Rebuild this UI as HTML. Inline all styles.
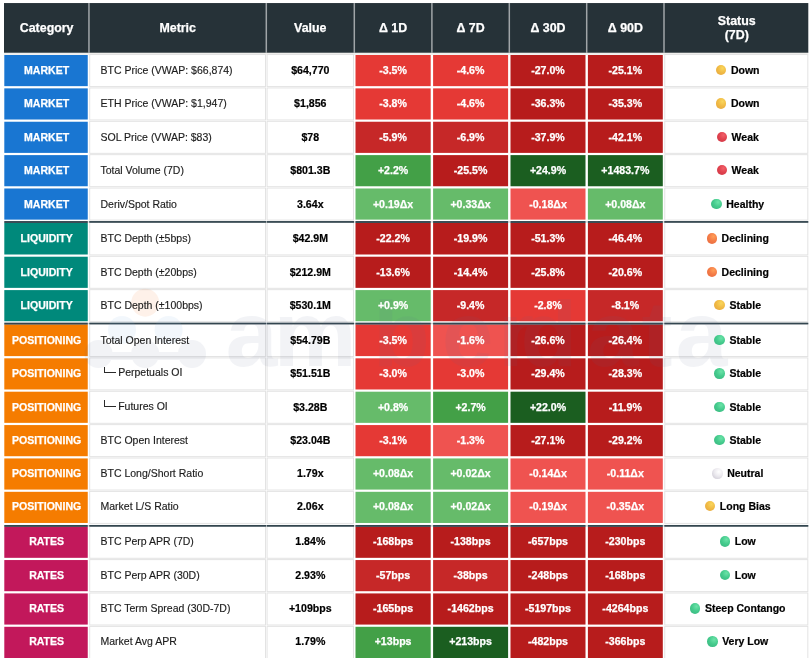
<!DOCTYPE html>
<html><head><meta charset="utf-8"><title>Market Dashboard</title>
<style>
html,body{margin:0;padding:0;background:#fff;}
body{width:810px;height:658px;overflow:hidden;position:relative;font-family:"Liberation Sans",sans-serif;}
#bg{position:absolute;left:0;top:0;}
#tx{position:absolute;left:0;top:0;width:810px;height:658px;will-change:transform;}
.t{position:absolute;white-space:nowrap;line-height:1;}
.h,.c,.d{-webkit-text-stroke:0.25px #fff;}
.v,.s{-webkit-text-stroke:0.2px #000;}
.m{-webkit-text-stroke:0.15px #1c1c1c;}
.h{color:#fff;font-weight:bold;font-size:12.4px;text-align:center;}
.c{color:#fff;font-weight:bold;font-size:10.55px;text-align:center;}
.m{color:#1c1c1c;font-size:10.5px;text-align:left;}
.v{color:#000;font-weight:bold;font-size:10.6px;text-align:center;}
.d{color:#fff;font-weight:bold;font-size:10.6px;text-align:center;}
.s{color:#000;font-weight:bold;font-size:10.5px;text-align:center;}
.dot{display:inline-block;width:10.4px;height:10.4px;border-radius:50%;vertical-align:-1.2px;margin-right:4.6px;}
.dy{background:radial-gradient(circle at 64% 32%,#f9d65c 0%,#f1bb45 45%,#e3a23c 100%);}
.dr{background:radial-gradient(circle at 64% 32%,#f2606a 0%,#e0424e 45%,#cd3645 100%);}
.dg{background:radial-gradient(circle at 64% 32%,#6be3a8 0%,#45cb8d 45%,#38b37e 100%);}
.do{background:radial-gradient(circle at 64% 32%,#ff9e58 0%,#f47c47 45%,#e5673f 100%);}
.dw{background:radial-gradient(circle at 62% 34%,#ffffff 0%,#ebe9ee 45%,#c6c2cd 100%);}
</style></head><body>

<svg id="bg" width="810" height="658" viewBox="0 0 810 658">
<rect x="0" y="0" width="810" height="658" fill="#ffffff"/>
<rect x="4.0" y="3.05" width="804.3" height="49.800000000000004" fill="#263238"/>
<rect x="88.20" y="3.05" width="1.5" height="49.80" fill="#a0a5a8"/>
<rect x="265.55" y="3.05" width="1.5" height="49.80" fill="#a0a5a8"/>
<rect x="353.55" y="3.05" width="1.5" height="49.80" fill="#a0a5a8"/>
<rect x="431.15" y="3.05" width="1.5" height="49.80" fill="#a0a5a8"/>
<rect x="508.55" y="3.05" width="1.5" height="49.80" fill="#a0a5a8"/>
<rect x="585.95" y="3.05" width="1.5" height="49.80" fill="#a0a5a8"/>
<rect x="663.25" y="3.05" width="1.5" height="49.80" fill="#a0a5a8"/>
<rect x="4.0" y="52.85" width="804.3" height="1.95" fill="#efeeec"/>
<rect x="4.30" y="55.00" width="83.45" height="31.15" fill="#1976D2"/>
<rect x="89.25" y="54.10" width="176.75" height="32.95" fill="#e2e2e2"/>
<rect x="90.20" y="55.05" width="174.85" height="31.05" fill="#ffffff"/>
<rect x="266.60" y="54.10" width="87.40" height="32.95" fill="#e2e2e2"/>
<rect x="267.55" y="55.05" width="85.50" height="31.05" fill="#ffffff"/>
<rect x="355.50" y="55.00" width="75.20" height="31.15" fill="#E53935"/>
<rect x="433.10" y="55.00" width="75.00" height="31.15" fill="#E53935"/>
<rect x="510.50" y="55.00" width="75.00" height="31.15" fill="#B71C1C"/>
<rect x="587.90" y="55.00" width="74.90" height="31.15" fill="#B71C1C"/>
<rect x="664.30" y="54.10" width="144.00" height="32.95" fill="#e2e2e2"/>
<rect x="665.25" y="55.05" width="142.10" height="31.05" fill="#ffffff"/>
<rect x="4.30" y="88.37" width="83.45" height="31.15" fill="#1976D2"/>
<rect x="89.25" y="87.47" width="176.75" height="32.95" fill="#e2e2e2"/>
<rect x="90.20" y="88.42" width="174.85" height="31.05" fill="#ffffff"/>
<rect x="266.60" y="87.47" width="87.40" height="32.95" fill="#e2e2e2"/>
<rect x="267.55" y="88.42" width="85.50" height="31.05" fill="#ffffff"/>
<rect x="355.50" y="88.37" width="75.20" height="31.15" fill="#E53935"/>
<rect x="433.10" y="88.37" width="75.00" height="31.15" fill="#E53935"/>
<rect x="510.50" y="88.37" width="75.00" height="31.15" fill="#B71C1C"/>
<rect x="587.90" y="88.37" width="74.90" height="31.15" fill="#B71C1C"/>
<rect x="664.30" y="87.47" width="144.00" height="32.95" fill="#e2e2e2"/>
<rect x="665.25" y="88.42" width="142.10" height="31.05" fill="#ffffff"/>
<rect x="4.30" y="121.74" width="83.45" height="31.15" fill="#1976D2"/>
<rect x="89.25" y="120.84" width="176.75" height="32.95" fill="#e2e2e2"/>
<rect x="90.20" y="121.79" width="174.85" height="31.05" fill="#ffffff"/>
<rect x="266.60" y="120.84" width="87.40" height="32.95" fill="#e2e2e2"/>
<rect x="267.55" y="121.79" width="85.50" height="31.05" fill="#ffffff"/>
<rect x="355.50" y="121.74" width="75.20" height="31.15" fill="#C62828"/>
<rect x="433.10" y="121.74" width="75.00" height="31.15" fill="#C62828"/>
<rect x="510.50" y="121.74" width="75.00" height="31.15" fill="#B71C1C"/>
<rect x="587.90" y="121.74" width="74.90" height="31.15" fill="#B71C1C"/>
<rect x="664.30" y="120.84" width="144.00" height="32.95" fill="#e2e2e2"/>
<rect x="665.25" y="121.79" width="142.10" height="31.05" fill="#ffffff"/>
<rect x="4.30" y="155.11" width="83.45" height="31.15" fill="#1976D2"/>
<rect x="89.25" y="154.21" width="176.75" height="32.95" fill="#e2e2e2"/>
<rect x="90.20" y="155.16" width="174.85" height="31.05" fill="#ffffff"/>
<rect x="266.60" y="154.21" width="87.40" height="32.95" fill="#e2e2e2"/>
<rect x="267.55" y="155.16" width="85.50" height="31.05" fill="#ffffff"/>
<rect x="355.50" y="155.11" width="75.20" height="31.15" fill="#43A047"/>
<rect x="433.10" y="155.11" width="75.00" height="31.15" fill="#B71C1C"/>
<rect x="510.50" y="155.11" width="75.00" height="31.15" fill="#1B5E20"/>
<rect x="587.90" y="155.11" width="74.90" height="31.15" fill="#1B5E20"/>
<rect x="664.30" y="154.21" width="144.00" height="32.95" fill="#e2e2e2"/>
<rect x="665.25" y="155.16" width="142.10" height="31.05" fill="#ffffff"/>
<rect x="4.30" y="188.48" width="83.45" height="31.15" fill="#1976D2"/>
<rect x="89.25" y="187.58" width="176.75" height="32.95" fill="#e2e2e2"/>
<rect x="90.20" y="188.53" width="174.85" height="31.05" fill="#ffffff"/>
<rect x="266.60" y="187.58" width="87.40" height="32.95" fill="#e2e2e2"/>
<rect x="267.55" y="188.53" width="85.50" height="31.05" fill="#ffffff"/>
<rect x="355.50" y="188.48" width="75.20" height="31.15" fill="#66BB6A"/>
<rect x="433.10" y="188.48" width="75.00" height="31.15" fill="#66BB6A"/>
<rect x="510.50" y="188.48" width="75.00" height="31.15" fill="#EF5350"/>
<rect x="587.90" y="188.48" width="74.90" height="31.15" fill="#66BB6A"/>
<rect x="664.30" y="187.58" width="144.00" height="32.95" fill="#e2e2e2"/>
<rect x="665.25" y="188.53" width="142.10" height="31.05" fill="#ffffff"/>
<rect x="4.30" y="221.25" width="804.00" height="1.35" fill="#cdd2d5"/>
<rect x="4.30" y="222.80" width="83.45" height="31.70" fill="#00897B"/>
<rect x="4.30" y="221.05" width="83.45" height="1.90" fill="#33464f"/>
<rect x="89.25" y="222.80" width="176.75" height="32.60" fill="#e2e2e2"/>
<rect x="90.20" y="222.80" width="174.85" height="31.65" fill="#ffffff"/>
<rect x="89.25" y="221.05" width="176.75" height="1.75" fill="#33464f"/>
<rect x="266.60" y="222.80" width="87.40" height="32.60" fill="#e2e2e2"/>
<rect x="267.55" y="222.80" width="85.50" height="31.65" fill="#ffffff"/>
<rect x="266.60" y="221.05" width="87.40" height="1.75" fill="#33464f"/>
<rect x="355.50" y="222.80" width="75.20" height="31.70" fill="#B71C1C"/>
<rect x="355.50" y="221.05" width="75.20" height="1.90" fill="#33464f"/>
<rect x="433.10" y="222.80" width="75.00" height="31.70" fill="#B71C1C"/>
<rect x="433.10" y="221.05" width="75.00" height="1.90" fill="#33464f"/>
<rect x="510.50" y="222.80" width="75.00" height="31.70" fill="#B71C1C"/>
<rect x="510.50" y="221.05" width="75.00" height="1.90" fill="#33464f"/>
<rect x="587.90" y="222.80" width="74.90" height="31.70" fill="#B71C1C"/>
<rect x="587.90" y="221.05" width="74.90" height="1.90" fill="#33464f"/>
<rect x="664.30" y="222.80" width="144.00" height="32.60" fill="#e2e2e2"/>
<rect x="665.25" y="222.80" width="142.10" height="31.65" fill="#ffffff"/>
<rect x="664.30" y="221.05" width="144.00" height="1.75" fill="#33464f"/>
<rect x="4.30" y="256.72" width="83.45" height="31.15" fill="#00897B"/>
<rect x="89.25" y="255.82" width="176.75" height="32.95" fill="#e2e2e2"/>
<rect x="90.20" y="256.77" width="174.85" height="31.05" fill="#ffffff"/>
<rect x="266.60" y="255.82" width="87.40" height="32.95" fill="#e2e2e2"/>
<rect x="267.55" y="256.77" width="85.50" height="31.05" fill="#ffffff"/>
<rect x="355.50" y="256.72" width="75.20" height="31.15" fill="#B71C1C"/>
<rect x="433.10" y="256.72" width="75.00" height="31.15" fill="#B71C1C"/>
<rect x="510.50" y="256.72" width="75.00" height="31.15" fill="#B71C1C"/>
<rect x="587.90" y="256.72" width="74.90" height="31.15" fill="#B71C1C"/>
<rect x="664.30" y="255.82" width="144.00" height="32.95" fill="#e2e2e2"/>
<rect x="665.25" y="256.77" width="142.10" height="31.05" fill="#ffffff"/>
<rect x="4.30" y="290.09" width="83.45" height="31.15" fill="#00897B"/>
<rect x="89.25" y="289.19" width="176.75" height="32.95" fill="#e2e2e2"/>
<rect x="90.20" y="290.14" width="174.85" height="31.05" fill="#ffffff"/>
<rect x="266.60" y="289.19" width="87.40" height="32.95" fill="#e2e2e2"/>
<rect x="267.55" y="290.14" width="85.50" height="31.05" fill="#ffffff"/>
<rect x="355.50" y="290.09" width="75.20" height="31.15" fill="#66BB6A"/>
<rect x="433.10" y="290.09" width="75.00" height="31.15" fill="#C62828"/>
<rect x="510.50" y="290.09" width="75.00" height="31.15" fill="#E53935"/>
<rect x="587.90" y="290.09" width="74.90" height="31.15" fill="#C62828"/>
<rect x="664.30" y="289.19" width="144.00" height="32.95" fill="#e2e2e2"/>
<rect x="665.25" y="290.14" width="142.10" height="31.05" fill="#ffffff"/>
<rect x="4.30" y="322.86" width="804.00" height="1.35" fill="#cdd2d5"/>
<rect x="4.30" y="324.41" width="83.45" height="31.70" fill="#F57C00"/>
<rect x="4.30" y="322.66" width="83.45" height="1.90" fill="#33464f"/>
<rect x="89.25" y="324.41" width="176.75" height="32.60" fill="#e2e2e2"/>
<rect x="90.20" y="324.41" width="174.85" height="31.65" fill="#ffffff"/>
<rect x="89.25" y="322.66" width="176.75" height="1.75" fill="#33464f"/>
<rect x="266.60" y="324.41" width="87.40" height="32.60" fill="#e2e2e2"/>
<rect x="267.55" y="324.41" width="85.50" height="31.65" fill="#ffffff"/>
<rect x="266.60" y="322.66" width="87.40" height="1.75" fill="#33464f"/>
<rect x="355.50" y="324.41" width="75.20" height="31.70" fill="#E53935"/>
<rect x="355.50" y="322.66" width="75.20" height="1.90" fill="#33464f"/>
<rect x="433.10" y="324.41" width="75.00" height="31.70" fill="#EF5350"/>
<rect x="433.10" y="322.66" width="75.00" height="1.90" fill="#33464f"/>
<rect x="510.50" y="324.41" width="75.00" height="31.70" fill="#B71C1C"/>
<rect x="510.50" y="322.66" width="75.00" height="1.90" fill="#33464f"/>
<rect x="587.90" y="324.41" width="74.90" height="31.70" fill="#B71C1C"/>
<rect x="587.90" y="322.66" width="74.90" height="1.90" fill="#33464f"/>
<rect x="664.30" y="324.41" width="144.00" height="32.60" fill="#e2e2e2"/>
<rect x="665.25" y="324.41" width="142.10" height="31.65" fill="#ffffff"/>
<rect x="664.30" y="322.66" width="144.00" height="1.75" fill="#33464f"/>
<rect x="4.30" y="358.33" width="83.45" height="31.15" fill="#F57C00"/>
<rect x="89.25" y="357.43" width="176.75" height="32.95" fill="#e2e2e2"/>
<rect x="90.20" y="358.38" width="174.85" height="31.05" fill="#ffffff"/>
<rect x="266.60" y="357.43" width="87.40" height="32.95" fill="#e2e2e2"/>
<rect x="267.55" y="358.38" width="85.50" height="31.05" fill="#ffffff"/>
<rect x="355.50" y="358.33" width="75.20" height="31.15" fill="#E53935"/>
<rect x="433.10" y="358.33" width="75.00" height="31.15" fill="#E53935"/>
<rect x="510.50" y="358.33" width="75.00" height="31.15" fill="#B71C1C"/>
<rect x="587.90" y="358.33" width="74.90" height="31.15" fill="#B71C1C"/>
<rect x="664.30" y="357.43" width="144.00" height="32.95" fill="#e2e2e2"/>
<rect x="665.25" y="358.38" width="142.10" height="31.05" fill="#ffffff"/>
<rect x="4.30" y="391.70" width="83.45" height="31.15" fill="#F57C00"/>
<rect x="89.25" y="390.80" width="176.75" height="32.95" fill="#e2e2e2"/>
<rect x="90.20" y="391.75" width="174.85" height="31.05" fill="#ffffff"/>
<rect x="266.60" y="390.80" width="87.40" height="32.95" fill="#e2e2e2"/>
<rect x="267.55" y="391.75" width="85.50" height="31.05" fill="#ffffff"/>
<rect x="355.50" y="391.70" width="75.20" height="31.15" fill="#66BB6A"/>
<rect x="433.10" y="391.70" width="75.00" height="31.15" fill="#43A047"/>
<rect x="510.50" y="391.70" width="75.00" height="31.15" fill="#1B5E20"/>
<rect x="587.90" y="391.70" width="74.90" height="31.15" fill="#B71C1C"/>
<rect x="664.30" y="390.80" width="144.00" height="32.95" fill="#e2e2e2"/>
<rect x="665.25" y="391.75" width="142.10" height="31.05" fill="#ffffff"/>
<rect x="4.30" y="425.07" width="83.45" height="31.15" fill="#F57C00"/>
<rect x="89.25" y="424.17" width="176.75" height="32.95" fill="#e2e2e2"/>
<rect x="90.20" y="425.12" width="174.85" height="31.05" fill="#ffffff"/>
<rect x="266.60" y="424.17" width="87.40" height="32.95" fill="#e2e2e2"/>
<rect x="267.55" y="425.12" width="85.50" height="31.05" fill="#ffffff"/>
<rect x="355.50" y="425.07" width="75.20" height="31.15" fill="#E53935"/>
<rect x="433.10" y="425.07" width="75.00" height="31.15" fill="#EF5350"/>
<rect x="510.50" y="425.07" width="75.00" height="31.15" fill="#B71C1C"/>
<rect x="587.90" y="425.07" width="74.90" height="31.15" fill="#B71C1C"/>
<rect x="664.30" y="424.17" width="144.00" height="32.95" fill="#e2e2e2"/>
<rect x="665.25" y="425.12" width="142.10" height="31.05" fill="#ffffff"/>
<rect x="4.30" y="458.44" width="83.45" height="31.15" fill="#F57C00"/>
<rect x="89.25" y="457.54" width="176.75" height="32.95" fill="#e2e2e2"/>
<rect x="90.20" y="458.49" width="174.85" height="31.05" fill="#ffffff"/>
<rect x="266.60" y="457.54" width="87.40" height="32.95" fill="#e2e2e2"/>
<rect x="267.55" y="458.49" width="85.50" height="31.05" fill="#ffffff"/>
<rect x="355.50" y="458.44" width="75.20" height="31.15" fill="#66BB6A"/>
<rect x="433.10" y="458.44" width="75.00" height="31.15" fill="#66BB6A"/>
<rect x="510.50" y="458.44" width="75.00" height="31.15" fill="#EF5350"/>
<rect x="587.90" y="458.44" width="74.90" height="31.15" fill="#EF5350"/>
<rect x="664.30" y="457.54" width="144.00" height="32.95" fill="#e2e2e2"/>
<rect x="665.25" y="458.49" width="142.10" height="31.05" fill="#ffffff"/>
<rect x="4.30" y="491.81" width="83.45" height="31.15" fill="#F57C00"/>
<rect x="89.25" y="490.91" width="176.75" height="32.95" fill="#e2e2e2"/>
<rect x="90.20" y="491.86" width="174.85" height="31.05" fill="#ffffff"/>
<rect x="266.60" y="490.91" width="87.40" height="32.95" fill="#e2e2e2"/>
<rect x="267.55" y="491.86" width="85.50" height="31.05" fill="#ffffff"/>
<rect x="355.50" y="491.81" width="75.20" height="31.15" fill="#66BB6A"/>
<rect x="433.10" y="491.81" width="75.00" height="31.15" fill="#66BB6A"/>
<rect x="510.50" y="491.81" width="75.00" height="31.15" fill="#EF5350"/>
<rect x="587.90" y="491.81" width="74.90" height="31.15" fill="#EF5350"/>
<rect x="664.30" y="490.91" width="144.00" height="32.95" fill="#e2e2e2"/>
<rect x="665.25" y="491.86" width="142.10" height="31.05" fill="#ffffff"/>
<rect x="4.30" y="525.18" width="804.00" height="1.35" fill="#cdd2d5"/>
<rect x="4.30" y="526.73" width="83.45" height="31.10" fill="#C2185B"/>
<rect x="4.30" y="524.98" width="83.45" height="1.90" fill="#33464f"/>
<rect x="89.25" y="526.73" width="176.75" height="32.00" fill="#e2e2e2"/>
<rect x="90.20" y="526.73" width="174.85" height="31.05" fill="#ffffff"/>
<rect x="89.25" y="524.98" width="176.75" height="1.75" fill="#33464f"/>
<rect x="266.60" y="526.73" width="87.40" height="32.00" fill="#e2e2e2"/>
<rect x="267.55" y="526.73" width="85.50" height="31.05" fill="#ffffff"/>
<rect x="266.60" y="524.98" width="87.40" height="1.75" fill="#33464f"/>
<rect x="355.50" y="526.73" width="75.20" height="31.10" fill="#B71C1C"/>
<rect x="355.50" y="524.98" width="75.20" height="1.90" fill="#33464f"/>
<rect x="433.10" y="526.73" width="75.00" height="31.10" fill="#B71C1C"/>
<rect x="433.10" y="524.98" width="75.00" height="1.90" fill="#33464f"/>
<rect x="510.50" y="526.73" width="75.00" height="31.10" fill="#B71C1C"/>
<rect x="510.50" y="524.98" width="75.00" height="1.90" fill="#33464f"/>
<rect x="587.90" y="526.73" width="74.90" height="31.10" fill="#B71C1C"/>
<rect x="587.90" y="524.98" width="74.90" height="1.90" fill="#33464f"/>
<rect x="664.30" y="526.73" width="144.00" height="32.00" fill="#e2e2e2"/>
<rect x="665.25" y="526.73" width="142.10" height="31.05" fill="#ffffff"/>
<rect x="664.30" y="524.98" width="144.00" height="1.75" fill="#33464f"/>
<rect x="4.30" y="560.05" width="83.45" height="31.15" fill="#C2185B"/>
<rect x="89.25" y="559.15" width="176.75" height="32.95" fill="#e2e2e2"/>
<rect x="90.20" y="560.10" width="174.85" height="31.05" fill="#ffffff"/>
<rect x="266.60" y="559.15" width="87.40" height="32.95" fill="#e2e2e2"/>
<rect x="267.55" y="560.10" width="85.50" height="31.05" fill="#ffffff"/>
<rect x="355.50" y="560.05" width="75.20" height="31.15" fill="#C62828"/>
<rect x="433.10" y="560.05" width="75.00" height="31.15" fill="#C62828"/>
<rect x="510.50" y="560.05" width="75.00" height="31.15" fill="#B71C1C"/>
<rect x="587.90" y="560.05" width="74.90" height="31.15" fill="#B71C1C"/>
<rect x="664.30" y="559.15" width="144.00" height="32.95" fill="#e2e2e2"/>
<rect x="665.25" y="560.10" width="142.10" height="31.05" fill="#ffffff"/>
<rect x="4.30" y="593.42" width="83.45" height="31.15" fill="#C2185B"/>
<rect x="89.25" y="592.52" width="176.75" height="32.95" fill="#e2e2e2"/>
<rect x="90.20" y="593.47" width="174.85" height="31.05" fill="#ffffff"/>
<rect x="266.60" y="592.52" width="87.40" height="32.95" fill="#e2e2e2"/>
<rect x="267.55" y="593.47" width="85.50" height="31.05" fill="#ffffff"/>
<rect x="355.50" y="593.42" width="75.20" height="31.15" fill="#B71C1C"/>
<rect x="433.10" y="593.42" width="75.00" height="31.15" fill="#B71C1C"/>
<rect x="510.50" y="593.42" width="75.00" height="31.15" fill="#B71C1C"/>
<rect x="587.90" y="593.42" width="74.90" height="31.15" fill="#B71C1C"/>
<rect x="664.30" y="592.52" width="144.00" height="32.95" fill="#e2e2e2"/>
<rect x="665.25" y="593.47" width="142.10" height="31.05" fill="#ffffff"/>
<rect x="4.30" y="626.79" width="83.45" height="34.15" fill="#C2185B"/>
<rect x="89.25" y="625.89" width="176.75" height="35.95" fill="#e2e2e2"/>
<rect x="90.20" y="626.84" width="174.85" height="34.05" fill="#ffffff"/>
<rect x="266.60" y="625.89" width="87.40" height="35.95" fill="#e2e2e2"/>
<rect x="267.55" y="626.84" width="85.50" height="34.05" fill="#ffffff"/>
<rect x="355.50" y="626.79" width="75.20" height="34.15" fill="#43A047"/>
<rect x="433.10" y="626.79" width="75.00" height="34.15" fill="#1B5E20"/>
<rect x="510.50" y="626.79" width="75.00" height="34.15" fill="#B71C1C"/>
<rect x="587.90" y="626.79" width="74.90" height="34.15" fill="#B71C1C"/>
<rect x="664.30" y="625.89" width="144.00" height="35.95" fill="#e2e2e2"/>
<rect x="665.25" y="626.84" width="142.10" height="34.05" fill="#ffffff"/>
<g opacity="0.075">
<path d="M98.5,356 L192,356" fill="none" stroke="#5b6b95" stroke-width="8"/>
<circle cx="98.5" cy="354" r="14" fill="#5b6b95"/>
<circle cx="145.2" cy="354" r="14" fill="#5b6b95"/>
<circle cx="192" cy="354" r="14" fill="#5b6b95"/>
<text x="251.5" y="366" text-anchor="middle" font-family="Liberation Sans, sans-serif" font-weight="bold" font-size="93" fill="#5b6b95">a</text>
<text x="315" y="366" text-anchor="middle" font-family="Liberation Sans, sans-serif" font-weight="bold" font-size="93" fill="#5b6b95">m</text>
<text x="401.5" y="366" text-anchor="middle" font-family="Liberation Sans, sans-serif" font-weight="bold" font-size="93" fill="#5b6b95">b</text>
<text x="467.5" y="366" text-anchor="middle" font-family="Liberation Sans, sans-serif" font-weight="bold" font-size="93" fill="#5b6b95">e</text>
<text x="516" y="366" text-anchor="middle" font-family="Liberation Sans, sans-serif" font-weight="bold" font-size="93" fill="#5b6b95">r</text>
<text x="549" y="366" text-anchor="middle" font-family="Liberation Sans, sans-serif" font-weight="bold" font-size="93" fill="#5b6b95">d</text>
<text x="613" y="366" text-anchor="middle" font-family="Liberation Sans, sans-serif" font-weight="bold" font-size="93" fill="#5b6b95">a</text>
<text x="657" y="366" text-anchor="middle" font-family="Liberation Sans, sans-serif" font-weight="bold" font-size="93" fill="#5b6b95">t</text>
<text x="701.5" y="366" text-anchor="middle" font-family="Liberation Sans, sans-serif" font-weight="bold" font-size="93" fill="#5b6b95">a</text>
</g>
<circle cx="145.2" cy="302.7" r="14" fill="#f5853a" opacity="0.115"/>
<circle cx="122" cy="330" r="14" fill="#7fb2e0" opacity="0.10"/>
<circle cx="168.6" cy="330" r="14" fill="#7fb2e0" opacity="0.10"/>
</svg>
<div id="tx"><div class="t h" style="left:4.3px;width:84.7px;top:21.5px">Category</div>
<div class="t h" style="left:89.0px;width:177.4px;top:21.5px">Metric</div>
<div class="t h" style="left:266.3px;width:88.0px;top:21.5px">Value</div>
<div class="t h" style="left:354.3px;width:77.6px;top:21.5px">Δ 1D</div>
<div class="t h" style="left:431.9px;width:77.4px;top:21.5px">Δ 7D</div>
<div class="t h" style="left:509.3px;width:77.4px;top:21.5px">Δ 30D</div>
<div class="t h" style="left:586.7px;width:77.3px;top:21.5px">Δ 90D</div>
<div class="t h" style="left:664.6px;width:144.3px;top:13.6px;line-height:14.6px">Status<br>(7D)</div>
<div class="t c" style="left:4.3px;width:84.7px;top:65.0px">MARKET</div>
<div class="t m" style="left:100.5px;top:65.0px">BTC Price (VWAP: $66,874)</div>
<div class="t v" style="left:266.3px;width:88.0px;top:65.0px">$64,770</div>
<div class="t d" style="left:354.3px;width:77.6px;top:65.0px">-3.5%</div>
<div class="t d" style="left:431.9px;width:77.4px;top:65.0px">-4.6%</div>
<div class="t d" style="left:509.3px;width:77.4px;top:65.0px">-27.0%</div>
<div class="t d" style="left:586.7px;width:77.3px;top:65.0px">-25.1%</div>
<div class="t s" style="left:665.6px;width:144.3px;top:65.0px"><span class="dot dy"></span>Down</div>
<div class="t c" style="left:4.3px;width:84.7px;top:98.3px">MARKET</div>
<div class="t m" style="left:100.5px;top:98.3px">ETH Price (VWAP: $1,947)</div>
<div class="t v" style="left:266.3px;width:88.0px;top:98.3px">$1,856</div>
<div class="t d" style="left:354.3px;width:77.6px;top:98.3px">-3.8%</div>
<div class="t d" style="left:431.9px;width:77.4px;top:98.3px">-4.6%</div>
<div class="t d" style="left:509.3px;width:77.4px;top:98.3px">-36.3%</div>
<div class="t d" style="left:586.7px;width:77.3px;top:98.3px">-35.3%</div>
<div class="t s" style="left:665.6px;width:144.3px;top:98.3px"><span class="dot dy"></span>Down</div>
<div class="t c" style="left:4.3px;width:84.7px;top:131.7px">MARKET</div>
<div class="t m" style="left:100.5px;top:131.7px">SOL Price (VWAP: $83)</div>
<div class="t v" style="left:266.3px;width:88.0px;top:131.7px">$78</div>
<div class="t d" style="left:354.3px;width:77.6px;top:131.7px">-5.9%</div>
<div class="t d" style="left:431.9px;width:77.4px;top:131.7px">-6.9%</div>
<div class="t d" style="left:509.3px;width:77.4px;top:131.7px">-37.9%</div>
<div class="t d" style="left:586.7px;width:77.3px;top:131.7px">-42.1%</div>
<div class="t s" style="left:665.6px;width:144.3px;top:131.7px"><span class="dot dr"></span>Weak</div>
<div class="t c" style="left:4.3px;width:84.7px;top:165.1px">MARKET</div>
<div class="t m" style="left:100.5px;top:165.1px">Total Volume (7D)</div>
<div class="t v" style="left:266.3px;width:88.0px;top:165.1px">$801.3B</div>
<div class="t d" style="left:354.3px;width:77.6px;top:165.1px">+2.2%</div>
<div class="t d" style="left:431.9px;width:77.4px;top:165.1px">-25.5%</div>
<div class="t d" style="left:509.3px;width:77.4px;top:165.1px">+24.9%</div>
<div class="t d" style="left:586.7px;width:77.3px;top:165.1px">+1483.7%</div>
<div class="t s" style="left:665.6px;width:144.3px;top:165.1px"><span class="dot dr"></span>Weak</div>
<div class="t c" style="left:4.3px;width:84.7px;top:198.5px">MARKET</div>
<div class="t m" style="left:100.5px;top:198.5px">Deriv/Spot Ratio</div>
<div class="t v" style="left:266.3px;width:88.0px;top:198.5px">3.64x</div>
<div class="t d" style="left:354.3px;width:77.6px;top:198.5px">+0.19Δx</div>
<div class="t d" style="left:431.9px;width:77.4px;top:198.5px">+0.33Δx</div>
<div class="t d" style="left:509.3px;width:77.4px;top:198.5px">-0.18Δx</div>
<div class="t d" style="left:586.7px;width:77.3px;top:198.5px">+0.08Δx</div>
<div class="t s" style="left:665.6px;width:144.3px;top:198.5px"><span class="dot dg"></span>Healthy</div>
<div class="t c" style="left:4.3px;width:84.7px;top:233.3px">LIQUIDITY</div>
<div class="t m" style="left:100.5px;top:233.3px">BTC Depth (±5bps)</div>
<div class="t v" style="left:266.3px;width:88.0px;top:233.3px">$42.9M</div>
<div class="t d" style="left:354.3px;width:77.6px;top:233.3px">-22.2%</div>
<div class="t d" style="left:431.9px;width:77.4px;top:233.3px">-19.9%</div>
<div class="t d" style="left:509.3px;width:77.4px;top:233.3px">-51.3%</div>
<div class="t d" style="left:586.7px;width:77.3px;top:233.3px">-46.4%</div>
<div class="t s" style="left:665.6px;width:144.3px;top:233.3px"><span class="dot do"></span>Declining</div>
<div class="t c" style="left:4.3px;width:84.7px;top:266.7px">LIQUIDITY</div>
<div class="t m" style="left:100.5px;top:266.7px">BTC Depth (±20bps)</div>
<div class="t v" style="left:266.3px;width:88.0px;top:266.7px">$212.9M</div>
<div class="t d" style="left:354.3px;width:77.6px;top:266.7px">-13.6%</div>
<div class="t d" style="left:431.9px;width:77.4px;top:266.7px">-14.4%</div>
<div class="t d" style="left:509.3px;width:77.4px;top:266.7px">-25.8%</div>
<div class="t d" style="left:586.7px;width:77.3px;top:266.7px">-20.6%</div>
<div class="t s" style="left:665.6px;width:144.3px;top:266.7px"><span class="dot do"></span>Declining</div>
<div class="t c" style="left:4.3px;width:84.7px;top:300.1px">LIQUIDITY</div>
<div class="t m" style="left:100.5px;top:300.1px">BTC Depth (±100bps)</div>
<div class="t v" style="left:266.3px;width:88.0px;top:300.1px">$530.1M</div>
<div class="t d" style="left:354.3px;width:77.6px;top:300.1px">+0.9%</div>
<div class="t d" style="left:431.9px;width:77.4px;top:300.1px">-9.4%</div>
<div class="t d" style="left:509.3px;width:77.4px;top:300.1px">-2.8%</div>
<div class="t d" style="left:586.7px;width:77.3px;top:300.1px">-8.1%</div>
<div class="t s" style="left:665.6px;width:144.3px;top:300.1px"><span class="dot dy"></span>Stable</div>
<div class="t c" style="left:4.3px;width:84.7px;top:334.9px">POSITIONING</div>
<div class="t m" style="left:100.5px;top:334.9px">Total Open Interest</div>
<div class="t v" style="left:266.3px;width:88.0px;top:334.9px">$54.79B</div>
<div class="t d" style="left:354.3px;width:77.6px;top:334.9px">-3.5%</div>
<div class="t d" style="left:431.9px;width:77.4px;top:334.9px">-1.6%</div>
<div class="t d" style="left:509.3px;width:77.4px;top:334.9px">-26.6%</div>
<div class="t d" style="left:586.7px;width:77.3px;top:334.9px">-26.4%</div>
<div class="t s" style="left:665.6px;width:144.3px;top:334.9px"><span class="dot dg"></span>Stable</div>
<div class="t c" style="left:4.3px;width:84.7px;top:368.3px">POSITIONING</div>
<div class="t" style="left:104px;top:366.5px;width:10.8px;height:5.8px;border-left:1px solid #2a2a2a;border-bottom:1px solid #2a2a2a"></div>
<div class="t m" style="left:118.2px;top:367.4px">Perpetuals OI</div>
<div class="t v" style="left:266.3px;width:88.0px;top:368.3px">$51.51B</div>
<div class="t d" style="left:354.3px;width:77.6px;top:368.3px">-3.0%</div>
<div class="t d" style="left:431.9px;width:77.4px;top:368.3px">-3.0%</div>
<div class="t d" style="left:509.3px;width:77.4px;top:368.3px">-29.4%</div>
<div class="t d" style="left:586.7px;width:77.3px;top:368.3px">-28.3%</div>
<div class="t s" style="left:665.6px;width:144.3px;top:368.3px"><span class="dot dg"></span>Stable</div>
<div class="t c" style="left:4.3px;width:84.7px;top:401.7px">POSITIONING</div>
<div class="t" style="left:104px;top:399.9px;width:10.8px;height:5.8px;border-left:1px solid #2a2a2a;border-bottom:1px solid #2a2a2a"></div>
<div class="t m" style="left:118.2px;top:400.8px">Futures OI</div>
<div class="t v" style="left:266.3px;width:88.0px;top:401.7px">$3.28B</div>
<div class="t d" style="left:354.3px;width:77.6px;top:401.7px">+0.8%</div>
<div class="t d" style="left:431.9px;width:77.4px;top:401.7px">+2.7%</div>
<div class="t d" style="left:509.3px;width:77.4px;top:401.7px">+22.0%</div>
<div class="t d" style="left:586.7px;width:77.3px;top:401.7px">-11.9%</div>
<div class="t s" style="left:665.6px;width:144.3px;top:401.7px"><span class="dot dg"></span>Stable</div>
<div class="t c" style="left:4.3px;width:84.7px;top:435.0px">POSITIONING</div>
<div class="t m" style="left:100.5px;top:435.0px">BTC Open Interest</div>
<div class="t v" style="left:266.3px;width:88.0px;top:435.0px">$23.04B</div>
<div class="t d" style="left:354.3px;width:77.6px;top:435.0px">-3.1%</div>
<div class="t d" style="left:431.9px;width:77.4px;top:435.0px">-1.3%</div>
<div class="t d" style="left:509.3px;width:77.4px;top:435.0px">-27.1%</div>
<div class="t d" style="left:586.7px;width:77.3px;top:435.0px">-29.2%</div>
<div class="t s" style="left:665.6px;width:144.3px;top:435.0px"><span class="dot dg"></span>Stable</div>
<div class="t c" style="left:4.3px;width:84.7px;top:468.4px">POSITIONING</div>
<div class="t m" style="left:100.5px;top:468.4px">BTC Long/Short Ratio</div>
<div class="t v" style="left:266.3px;width:88.0px;top:468.4px">1.79x</div>
<div class="t d" style="left:354.3px;width:77.6px;top:468.4px">+0.08Δx</div>
<div class="t d" style="left:431.9px;width:77.4px;top:468.4px">+0.02Δx</div>
<div class="t d" style="left:509.3px;width:77.4px;top:468.4px">-0.14Δx</div>
<div class="t d" style="left:586.7px;width:77.3px;top:468.4px">-0.11Δx</div>
<div class="t s" style="left:665.6px;width:144.3px;top:468.4px"><span class="dot dw"></span>Neutral</div>
<div class="t c" style="left:4.3px;width:84.7px;top:501.0px">POSITIONING</div>
<div class="t m" style="left:100.5px;top:501.0px">Market L/S Ratio</div>
<div class="t v" style="left:266.3px;width:88.0px;top:501.0px">2.06x</div>
<div class="t d" style="left:354.3px;width:77.6px;top:501.0px">+0.08Δx</div>
<div class="t d" style="left:431.9px;width:77.4px;top:501.0px">+0.02Δx</div>
<div class="t d" style="left:509.3px;width:77.4px;top:501.0px">-0.19Δx</div>
<div class="t d" style="left:586.7px;width:77.3px;top:501.0px">-0.35Δx</div>
<div class="t s" style="left:665.6px;width:144.3px;top:501.0px"><span class="dot dy"></span>Long Bias</div>
<div class="t c" style="left:4.3px;width:84.7px;top:536.4px">RATES</div>
<div class="t m" style="left:100.5px;top:536.4px">BTC Perp APR (7D)</div>
<div class="t v" style="left:266.3px;width:88.0px;top:536.4px">1.84%</div>
<div class="t d" style="left:354.3px;width:77.6px;top:536.4px">-168bps</div>
<div class="t d" style="left:431.9px;width:77.4px;top:536.4px">-138bps</div>
<div class="t d" style="left:509.3px;width:77.4px;top:536.4px">-657bps</div>
<div class="t d" style="left:586.7px;width:77.3px;top:536.4px">-230bps</div>
<div class="t s" style="left:665.6px;width:144.3px;top:536.4px"><span class="dot dg"></span>Low</div>
<div class="t c" style="left:4.3px;width:84.7px;top:570.0px">RATES</div>
<div class="t m" style="left:100.5px;top:570.0px">BTC Perp APR (30D)</div>
<div class="t v" style="left:266.3px;width:88.0px;top:570.0px">2.93%</div>
<div class="t d" style="left:354.3px;width:77.6px;top:570.0px">-57bps</div>
<div class="t d" style="left:431.9px;width:77.4px;top:570.0px">-38bps</div>
<div class="t d" style="left:509.3px;width:77.4px;top:570.0px">-248bps</div>
<div class="t d" style="left:586.7px;width:77.3px;top:570.0px">-168bps</div>
<div class="t s" style="left:665.6px;width:144.3px;top:570.0px"><span class="dot dg"></span>Low</div>
<div class="t c" style="left:4.3px;width:84.7px;top:603.4px">RATES</div>
<div class="t m" style="left:100.5px;top:603.4px">BTC Term Spread (30D-7D)</div>
<div class="t v" style="left:266.3px;width:88.0px;top:603.4px">+109bps</div>
<div class="t d" style="left:354.3px;width:77.6px;top:603.4px">-165bps</div>
<div class="t d" style="left:431.9px;width:77.4px;top:603.4px">-1462bps</div>
<div class="t d" style="left:509.3px;width:77.4px;top:603.4px">-5197bps</div>
<div class="t d" style="left:586.7px;width:77.3px;top:603.4px">-4264bps</div>
<div class="t s" style="left:665.6px;width:144.3px;top:603.4px"><span class="dot dg"></span>Steep Contango</div>
<div class="t c" style="left:4.3px;width:84.7px;top:636.3px">RATES</div>
<div class="t m" style="left:100.5px;top:636.3px">Market Avg APR</div>
<div class="t v" style="left:266.3px;width:88.0px;top:636.3px">1.79%</div>
<div class="t d" style="left:354.3px;width:77.6px;top:636.3px">+13bps</div>
<div class="t d" style="left:431.9px;width:77.4px;top:636.3px">+213bps</div>
<div class="t d" style="left:509.3px;width:77.4px;top:636.3px">-482bps</div>
<div class="t d" style="left:586.7px;width:77.3px;top:636.3px">-366bps</div>
<div class="t s" style="left:665.6px;width:144.3px;top:636.3px"><span class="dot dg"></span>Very Low</div></div>

</body></html>
